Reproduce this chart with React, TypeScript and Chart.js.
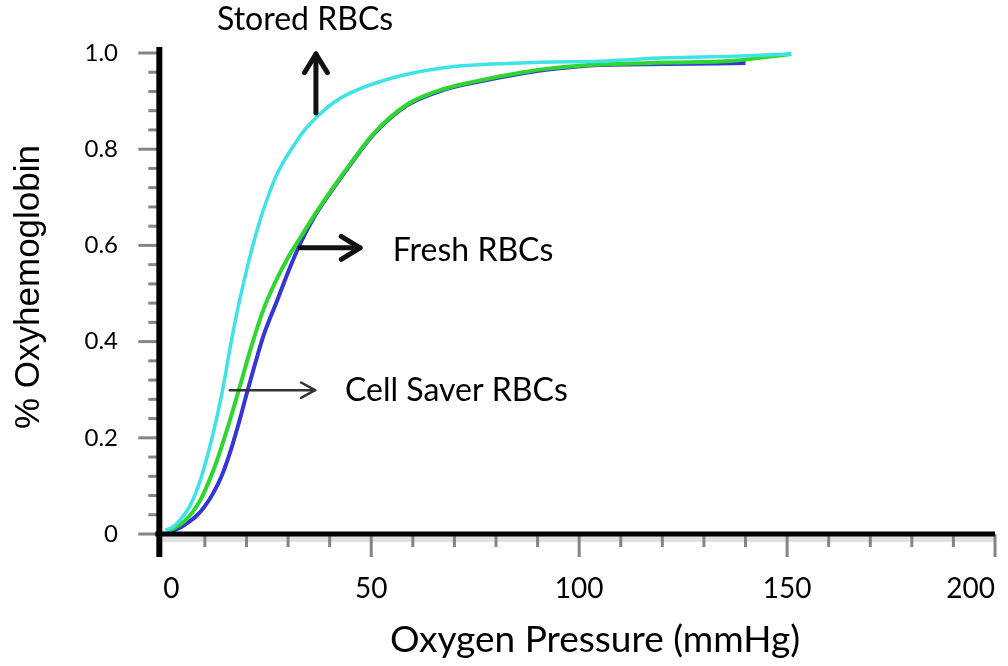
import React, { useEffect, useRef } from "react";
import { Chart, registerables } from "chart.js";

Chart.register(...registerables);

// ---- Data (oxygen pressure in mmHg, fraction oxyhemoglobin) ----
const storedX = [0.5, 2, 4, 6.5, 8.9, 12, 14.4, 16.1, 18, 20.2, 23, 25, 27, 29, 31, 34, 37, 41, 45, 55, 67, 79, 91, 105, 121, 137, 151];
const storedY = [0.008, 0.013, 0.029, 0.06, 0.112, 0.21, 0.306, 0.389, 0.472, 0.555, 0.645, 0.697, 0.742, 0.775, 0.803, 0.84, 0.868, 0.897, 0.917, 0.948, 0.969, 0.977, 0.981, 0.983, 0.99, 0.993, 0.998];

const freshX = [1, 3, 5, 7, 9, 11, 13, 15, 17, 19, 21, 24, 27, 30, 33, 36.5, 41, 45, 50.5, 58.6, 66.6, 74.5, 86.5, 93, 105, 121, 137, 151];
const freshY = [0.006, 0.014, 0.026, 0.045, 0.072, 0.11, 0.155, 0.208, 0.265, 0.325, 0.385, 0.465, 0.525, 0.575, 0.617, 0.665, 0.722, 0.77, 0.832, 0.893, 0.923, 0.94, 0.96, 0.968, 0.976, 0.98, 0.984, 0.998];

const cellX = [2, 4, 6, 8, 10, 12, 14, 16, 18, 20, 22, 24, 27.4, 30.5, 33, 36.5, 41, 45, 50.5, 58.6, 66.6, 74.5, 86.5, 93, 105, 121, 140];
const cellY = [0.006, 0.013, 0.024, 0.038, 0.058, 0.085, 0.12, 0.168, 0.226, 0.29, 0.352, 0.41, 0.486, 0.555, 0.605, 0.662, 0.72, 0.768, 0.83, 0.891, 0.921, 0.938, 0.958, 0.966, 0.975, 0.977, 0.979];

const xTickValues = [0, 50, 100, 150, 200];
const yTickValues = [0, 0.2, 0.4, 0.6, 0.8, 1.0];
const xMinorStep = 10;
const yMinorStep = 0.04;

// ---- Annotations (data coordinates) ----
const noteTexts = ["Stored RBCs", "Fresh RBCs", "Cell Saver RBCs"];
const noteX = [34.1, 55.2, 43.7];
const noteY = [1.069, 0.59, 0.299];
const noteAlign: CanvasTextAlign[] = ["center", "left", "left"];

const arrowFromX = [36.7, 32.9, 16.0];
const arrowFromY = [0.875, 0.595, 0.299];
const arrowToX = [36.7, 47.3, 36.5];
const arrowToY = [0.998, 0.595, 0.299];
const arrowBold = [true, true, false];

const LATO = "Lato, 'Open Sans', sans-serif";

function build(xs: number[], ys: number[]) {
  return xs.map((x, i) => ({ x, y: ys[i] }));
}

const customPlugin = {
  id: "customAxesAndNotes",
  afterDraw(chart: any) {
    const ctx: CanvasRenderingContext2D = chart.ctx;
    const xs = chart.scales.x;
    const ys = chart.scales.y;
    const X = (v: number) => xs.getPixelForValue(v);
    const Y = (v: number) => ys.getPixelForValue(v);
    const x0 = X(0);
    const y0 = Y(0);
    const axisX = x0 - 4;

    ctx.save();
    // light shadow under x axis
    ctx.fillStyle = "#e2e2e2";
    ctx.fillRect(axisX, y0 + 2, X(200) - axisX, 6);

    // x minor/major ticks
    ctx.strokeStyle = "#858585";
    ctx.lineWidth = 3;
    for (let i = 1; i * xMinorStep <= 200; i++) {
      const v = i * xMinorStep;
      const major = i % 5 === 0;
      ctx.beginPath();
      ctx.moveTo(X(v), y0);
      ctx.lineTo(X(v), y0 + (major ? 23 : 13));
      ctx.stroke();
    }
    // y minor/major ticks
    for (let i = 0; i * yMinorStep <= 1.0001; i++) {
      const v = i * yMinorStep;
      const major = i % 5 === 0;
      ctx.beginPath();
      ctx.moveTo(axisX, Y(v));
      ctx.lineTo(axisX - (major ? 21 : 11), Y(v));
      ctx.stroke();
    }

    // main axis lines
    ctx.strokeStyle = "#000";
    ctx.lineCap = "butt";
    ctx.lineWidth = 6;
    ctx.beginPath();
    ctx.moveTo(axisX, Y(1.0) - 6);
    ctx.lineTo(axisX, y0 + 23);
    ctx.stroke();
    ctx.lineWidth = 5;
    ctx.beginPath();
    ctx.moveTo(axisX - 4, y0);
    ctx.lineTo(X(200), y0);
    ctx.stroke();

    // arrows
    ctx.lineCap = "round";
    ctx.lineJoin = "round";
    for (let i = 0; i < arrowFromX.length; i++) {
      const ax = X(arrowFromX[i]);
      const ay = Y(arrowFromY[i]);
      const bx = X(arrowToX[i]);
      const by = Y(arrowToY[i]);
      const bold = arrowBold[i];
      ctx.strokeStyle = bold ? "#111" : "#333";
      ctx.lineWidth = bold ? 5 : 2.5;
      ctx.beginPath();
      ctx.moveTo(ax, ay);
      ctx.lineTo(bx, by);
      ctx.stroke();
      const ang = Math.atan2(by - ay, bx - ax);
      const hl = bold ? 22 : 16;
      const hw = bold ? 0.55 : 0.5;
      ctx.beginPath();
      ctx.moveTo(bx - hl * Math.cos(ang - hw), by - hl * Math.sin(ang - hw));
      ctx.lineTo(bx, by);
      ctx.lineTo(bx - hl * Math.cos(ang + hw), by - hl * Math.sin(ang + hw));
      ctx.stroke();
    }

    // annotation texts
    ctx.fillStyle = "#000";
    ctx.font = `32px ${LATO}`;
    ctx.textBaseline = "middle";
    for (let i = 0; i < noteTexts.length; i++) {
      ctx.textAlign = noteAlign[i];
      ctx.fillText(noteTexts[i], X(noteX[i]), Y(noteY[i]));
    }

    // axis titles
    ctx.textAlign = "center";
    ctx.font = `37px ${LATO}`;
    ctx.fillText("Oxygen Pressure (mmHg)", 595, 640);
    ctx.save();
    ctx.translate(29, 287);
    ctx.rotate(-Math.PI / 2);
    ctx.font = `35px "Liberation Sans", Arial, sans-serif`;
    ctx.fillText("% Oxyhemoglobin", 0, 0);
    ctx.restore();

    ctx.restore();
  },
};

export default function App() {
  const canvasRef = useRef<HTMLCanvasElement | null>(null);

  useEffect(() => {
    if (!canvasRef.current) return;
    const chart = new Chart(canvasRef.current, {
      type: "line",
      data: {
        datasets: [
          {
            label: "Stored RBCs",
            data: build(storedX, storedY),
            borderColor: "#3fe2e6",
            borderWidth: 3.5,
            pointRadius: 0,
            cubicInterpolationMode: "monotone",
            order: 1,
          },
          {
            label: "Fresh RBCs",
            data: build(freshX, freshY),
            borderColor: "#2fd62f",
            borderWidth: 4,
            pointRadius: 0,
            cubicInterpolationMode: "monotone",
            order: 2,
          },
          {
            label: "Cell Saver RBCs",
            data: build(cellX, cellY),
            borderColor: "#3535d8",
            borderWidth: 4,
            pointRadius: 0,
            cubicInterpolationMode: "monotone",
            order: 3,
          },
        ],
      },
      options: {
        responsive: false,
        animation: false,
        devicePixelRatio: 1,
        layout: { padding: { left: 0, right: 8, top: 40, bottom: 0 } },
        plugins: {
          legend: { display: false },
          tooltip: { enabled: false },
        },
        scales: {
          x: {
            type: "linear",
            min: -2,
            max: 201.2,
            grid: { display: false, drawTicks: false },
            border: { display: false },
            afterBuildTicks: (s: any) => {
              s.ticks = xTickValues.map((v) => ({ value: v }));
            },
            afterFit: (s: any) => {
              s.height = 106;
              s.paddingLeft = 0;
              s.paddingRight = 0;
            },
            ticks: {
              padding: 12,
              color: "#000",
              align: "inner",
              font: { family: LATO, size: 28 },
              maxRotation: 0,
              autoSkip: false,
              callback: (v: any) => String(v),
            },
          },
          y: {
            type: "linear",
            min: -0.054,
            max: 1.027,
            grid: { display: false, drawTicks: false },
            border: { display: false },
            afterBuildTicks: (s: any) => {
              s.ticks = yTickValues.map((v) => ({ value: v }));
            },
            afterFit: (s: any) => {
              s.width = 155;
              s.paddingTop = 0;
              s.paddingBottom = 0;
            },
            ticks: {
              padding: 37,
              color: "#000",
              font: { family: LATO, size: 24 },
              autoSkip: false,
              callback: (v: any) => (Number(v) === 0 ? "0" : Number(v).toFixed(1)),
            },
          },
        },
      },
      plugins: [customPlugin],
    });
    return () => chart.destroy();
  }, []);

  return (
    <div style={{ position: "fixed", left: 0, top: 0, width: 1008, height: 666, background: "#fff" }}>
      <canvas ref={canvasRef} width={1008} height={666} style={{ display: "block" }} />
    </div>
  );
}
